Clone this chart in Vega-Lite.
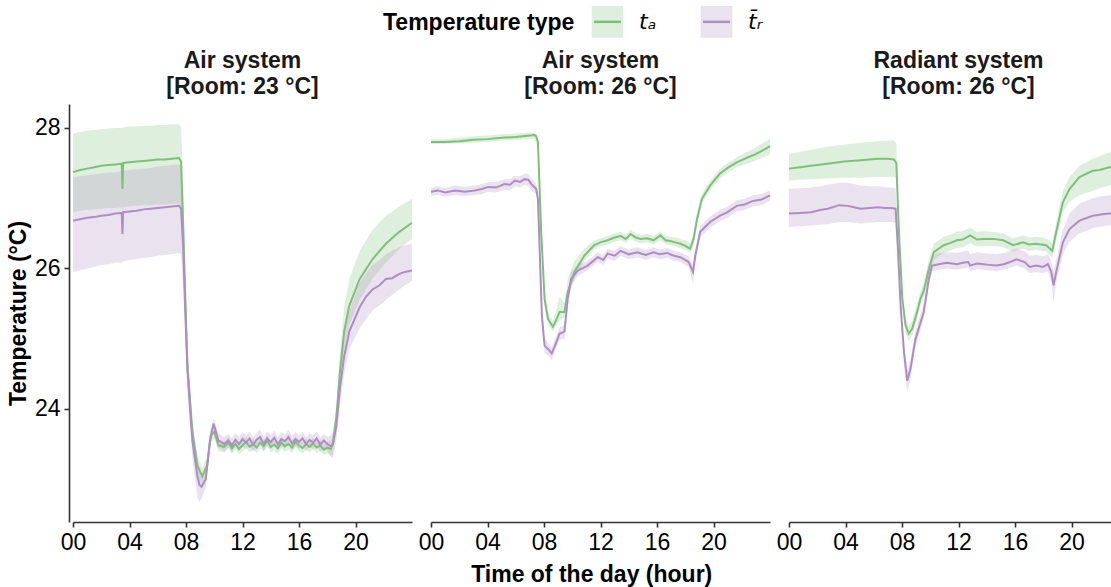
{
"$schema": "https://vega.github.io/schema/vega-lite/v6.json",
"padding": {"left": 7, "top": 4, "right": 0, "bottom": 4},
"background": "white",
"data": {"values": [
{"panel":"A23","type":"ta","hour":0,"mean":27.37,"lo":26.8,"hi":27.92},
{"panel":"A23","type":"ta","hour":0.5,"mean":27.4,"lo":26.82,"hi":27.94},
{"panel":"A23","type":"ta","hour":1,"mean":27.42,"lo":26.83,"hi":27.96},
{"panel":"A23","type":"ta","hour":1.5,"mean":27.44,"lo":26.84,"hi":27.97},
{"panel":"A23","type":"ta","hour":2,"mean":27.46,"lo":26.85,"hi":27.98},
{"panel":"A23","type":"ta","hour":2.5,"mean":27.47,"lo":26.86,"hi":27.99},
{"panel":"A23","type":"ta","hour":3,"mean":27.48,"lo":26.86,"hi":28.0},
{"panel":"A23","type":"ta","hour":3.45,"mean":27.49,"lo":26.87,"hi":28.0},
{"panel":"A23","type":"ta","hour":3.5,"mean":27.13,"lo":26.8,"hi":27.99},
{"panel":"A23","type":"ta","hour":3.55,"mean":27.5,"lo":26.87,"hi":28.01},
{"panel":"A23","type":"ta","hour":4,"mean":27.51,"lo":26.88,"hi":28.02},
{"panel":"A23","type":"ta","hour":4.5,"mean":27.52,"lo":26.89,"hi":28.02},
{"panel":"A23","type":"ta","hour":5,"mean":27.53,"lo":26.9,"hi":28.03},
{"panel":"A23","type":"ta","hour":5.5,"mean":27.54,"lo":26.9,"hi":28.03},
{"panel":"A23","type":"ta","hour":6,"mean":27.55,"lo":26.91,"hi":28.04},
{"panel":"A23","type":"ta","hour":6.5,"mean":27.55,"lo":26.91,"hi":28.04},
{"panel":"A23","type":"ta","hour":7,"mean":27.56,"lo":26.92,"hi":28.05},
{"panel":"A23","type":"ta","hour":7.5,"mean":27.57,"lo":26.92,"hi":28.05},
{"panel":"A23","type":"ta","hour":7.65,"mean":27.52,"lo":26.88,"hi":28.02},
{"panel":"A23","type":"ta","hour":7.8,"mean":26.6,"lo":26.1,"hi":27.2},
{"panel":"A23","type":"ta","hour":7.95,"mean":25.57,"lo":25.2,"hi":26.0},
{"panel":"A23","type":"ta","hour":8.1,"mean":24.62,"lo":24.35,"hi":24.95},
{"panel":"A23","type":"ta","hour":8.45,"mean":23.67,"lo":23.5,"hi":23.85},
{"panel":"A23","type":"ta","hour":8.8,"mean":23.2,"lo":23.05,"hi":23.35},
{"panel":"A23","type":"ta","hour":9.15,"mean":23.04,"lo":22.92,"hi":23.16},
{"panel":"A23","type":"ta","hour":9.5,"mean":23.2,"lo":23.08,"hi":23.32},
{"panel":"A23","type":"ta","hour":9.75,"mean":23.62,"lo":23.52,"hi":23.72},
{"panel":"A23","type":"ta","hour":10,"mean":23.67,"lo":23.58,"hi":23.76},
{"panel":"A23","type":"ta","hour":10.3,"mean":23.48,"lo":23.4,"hi":23.56},
{"panel":"A23","type":"ta","hour":10.7,"mean":23.46,"lo":23.38,"hi":23.54},
{"panel":"A23","type":"ta","hour":11,"mean":23.52,"lo":23.44,"hi":23.6},
{"panel":"A23","type":"ta","hour":11.25,"mean":23.44,"lo":23.36,"hi":23.52},
{"panel":"A23","type":"ta","hour":11.5,"mean":23.5,"lo":23.42,"hi":23.58},
{"panel":"A23","type":"ta","hour":11.75,"mean":23.43,"lo":23.35,"hi":23.51},
{"panel":"A23","type":"ta","hour":12,"mean":23.48,"lo":23.4,"hi":23.56},
{"panel":"A23","type":"ta","hour":12.25,"mean":23.53,"lo":23.45,"hi":23.61},
{"panel":"A23","type":"ta","hour":12.5,"mean":23.46,"lo":23.38,"hi":23.54},
{"panel":"A23","type":"ta","hour":12.75,"mean":23.5,"lo":23.42,"hi":23.58},
{"panel":"A23","type":"ta","hour":13,"mean":23.45,"lo":23.37,"hi":23.53},
{"panel":"A23","type":"ta","hour":13.25,"mean":23.52,"lo":23.44,"hi":23.6},
{"panel":"A23","type":"ta","hour":13.5,"mean":23.47,"lo":23.39,"hi":23.55},
{"panel":"A23","type":"ta","hour":13.75,"mean":23.55,"lo":23.47,"hi":23.63},
{"panel":"A23","type":"ta","hour":14,"mean":23.46,"lo":23.38,"hi":23.54},
{"panel":"A23","type":"ta","hour":14.25,"mean":23.49,"lo":23.41,"hi":23.57},
{"panel":"A23","type":"ta","hour":14.5,"mean":23.44,"lo":23.36,"hi":23.52},
{"panel":"A23","type":"ta","hour":14.75,"mean":23.52,"lo":23.44,"hi":23.6},
{"panel":"A23","type":"ta","hour":15,"mean":23.47,"lo":23.39,"hi":23.55},
{"panel":"A23","type":"ta","hour":15.25,"mean":23.5,"lo":23.42,"hi":23.58},
{"panel":"A23","type":"ta","hour":15.5,"mean":23.45,"lo":23.37,"hi":23.53},
{"panel":"A23","type":"ta","hour":15.75,"mean":23.53,"lo":23.45,"hi":23.61},
{"panel":"A23","type":"ta","hour":16,"mean":23.48,"lo":23.4,"hi":23.56},
{"panel":"A23","type":"ta","hour":16.25,"mean":23.44,"lo":23.36,"hi":23.52},
{"panel":"A23","type":"ta","hour":16.5,"mean":23.5,"lo":23.42,"hi":23.58},
{"panel":"A23","type":"ta","hour":16.75,"mean":23.46,"lo":23.38,"hi":23.54},
{"panel":"A23","type":"ta","hour":17,"mean":23.51,"lo":23.43,"hi":23.59},
{"panel":"A23","type":"ta","hour":17.25,"mean":23.45,"lo":23.37,"hi":23.53},
{"panel":"A23","type":"ta","hour":17.5,"mean":23.48,"lo":23.4,"hi":23.56},
{"panel":"A23","type":"ta","hour":17.75,"mean":23.42,"lo":23.34,"hi":23.5},
{"panel":"A23","type":"ta","hour":18,"mean":23.45,"lo":23.37,"hi":23.53},
{"panel":"A23","type":"ta","hour":18.25,"mean":23.43,"lo":23.33,"hi":23.55},
{"panel":"A23","type":"ta","hour":18.4,"mean":23.5,"lo":23.35,"hi":23.65},
{"panel":"A23","type":"ta","hour":18.64,"mean":23.86,"lo":23.7,"hi":24.05},
{"panel":"A23","type":"ta","hour":18.9,"mean":24.53,"lo":24.3,"hi":24.8},
{"panel":"A23","type":"ta","hour":19.2,"mean":25.1,"lo":24.85,"hi":25.45},
{"panel":"A23","type":"ta","hour":19.56,"mean":25.47,"lo":25.2,"hi":25.85},
{"panel":"A23","type":"ta","hour":20.3,"mean":25.85,"lo":25.55,"hi":26.25},
{"panel":"A23","type":"ta","hour":21.2,"mean":26.13,"lo":25.85,"hi":26.55},
{"panel":"A23","type":"ta","hour":22.15,"mean":26.35,"lo":26.08,"hi":26.75},
{"panel":"A23","type":"ta","hour":23.1,"mean":26.52,"lo":26.28,"hi":26.88},
{"panel":"A23","type":"ta","hour":24,"mean":26.65,"lo":26.42,"hi":26.99},
{"panel":"A23","type":"tr","hour":0,"mean":26.68,"lo":25.95,"hi":27.3},
{"panel":"A23","type":"tr","hour":0.5,"mean":26.7,"lo":25.97,"hi":27.31},
{"panel":"A23","type":"tr","hour":1,"mean":26.72,"lo":26.0,"hi":27.33},
{"panel":"A23","type":"tr","hour":1.5,"mean":26.73,"lo":26.02,"hi":27.34},
{"panel":"A23","type":"tr","hour":2,"mean":26.75,"lo":26.05,"hi":27.35},
{"panel":"A23","type":"tr","hour":2.5,"mean":26.76,"lo":26.06,"hi":27.36},
{"panel":"A23","type":"tr","hour":3,"mean":26.78,"lo":26.08,"hi":27.37},
{"panel":"A23","type":"tr","hour":3.45,"mean":26.79,"lo":26.08,"hi":27.38},
{"panel":"A23","type":"tr","hour":3.5,"mean":26.49,"lo":26.08,"hi":27.38},
{"panel":"A23","type":"tr","hour":3.55,"mean":26.8,"lo":26.1,"hi":27.39},
{"panel":"A23","type":"tr","hour":4,"mean":26.81,"lo":26.12,"hi":27.4},
{"panel":"A23","type":"tr","hour":4.5,"mean":26.82,"lo":26.13,"hi":27.41},
{"panel":"A23","type":"tr","hour":5,"mean":26.84,"lo":26.15,"hi":27.42},
{"panel":"A23","type":"tr","hour":5.5,"mean":26.85,"lo":26.16,"hi":27.43},
{"panel":"A23","type":"tr","hour":6,"mean":26.86,"lo":26.18,"hi":27.45},
{"panel":"A23","type":"tr","hour":6.5,"mean":26.87,"lo":26.19,"hi":27.46},
{"panel":"A23","type":"tr","hour":7,"mean":26.88,"lo":26.2,"hi":27.47},
{"panel":"A23","type":"tr","hour":7.5,"mean":26.89,"lo":26.22,"hi":27.48},
{"panel":"A23","type":"tr","hour":7.65,"mean":26.85,"lo":26.2,"hi":27.45},
{"panel":"A23","type":"tr","hour":7.8,"mean":26.3,"lo":25.7,"hi":26.9},
{"panel":"A23","type":"tr","hour":7.95,"mean":25.4,"lo":25.0,"hi":25.8},
{"panel":"A23","type":"tr","hour":8.1,"mean":24.55,"lo":24.25,"hi":24.85},
{"panel":"A23","type":"tr","hour":8.45,"mean":23.55,"lo":23.3,"hi":23.8},
{"panel":"A23","type":"tr","hour":8.8,"mean":23.05,"lo":22.75,"hi":23.3},
{"panel":"A23","type":"tr","hour":8.95,"mean":22.92,"lo":22.68,"hi":23.15},
{"panel":"A23","type":"tr","hour":9.1,"mean":22.89,"lo":22.72,"hi":23.05},
{"panel":"A23","type":"tr","hour":9.4,"mean":23.0,"lo":22.88,"hi":23.14},
{"panel":"A23","type":"tr","hour":9.7,"mean":23.55,"lo":23.45,"hi":23.66},
{"panel":"A23","type":"tr","hour":9.95,"mean":23.79,"lo":23.7,"hi":23.88},
{"panel":"A23","type":"tr","hour":10.3,"mean":23.55,"lo":23.45,"hi":23.65},
{"panel":"A23","type":"tr","hour":10.7,"mean":23.5,"lo":23.4,"hi":23.6},
{"panel":"A23","type":"tr","hour":11,"mean":23.55,"lo":23.45,"hi":23.65},
{"panel":"A23","type":"tr","hour":11.25,"mean":23.48,"lo":23.38,"hi":23.58},
{"panel":"A23","type":"tr","hour":11.5,"mean":23.56,"lo":23.46,"hi":23.66},
{"panel":"A23","type":"tr","hour":11.75,"mean":23.5,"lo":23.4,"hi":23.6},
{"panel":"A23","type":"tr","hour":12,"mean":23.57,"lo":23.47,"hi":23.67},
{"panel":"A23","type":"tr","hour":12.25,"mean":23.52,"lo":23.42,"hi":23.62},
{"panel":"A23","type":"tr","hour":12.5,"mean":23.58,"lo":23.48,"hi":23.68},
{"panel":"A23","type":"tr","hour":12.75,"mean":23.49,"lo":23.39,"hi":23.59},
{"panel":"A23","type":"tr","hour":13,"mean":23.56,"lo":23.46,"hi":23.66},
{"panel":"A23","type":"tr","hour":13.25,"mean":23.6,"lo":23.5,"hi":23.7},
{"panel":"A23","type":"tr","hour":13.5,"mean":23.5,"lo":23.4,"hi":23.6},
{"panel":"A23","type":"tr","hour":13.75,"mean":23.58,"lo":23.48,"hi":23.68},
{"panel":"A23","type":"tr","hour":14,"mean":23.53,"lo":23.43,"hi":23.63},
{"panel":"A23","type":"tr","hour":14.25,"mean":23.59,"lo":23.49,"hi":23.69},
{"panel":"A23","type":"tr","hour":14.5,"mean":23.5,"lo":23.4,"hi":23.6},
{"panel":"A23","type":"tr","hour":14.75,"mean":23.57,"lo":23.47,"hi":23.67},
{"panel":"A23","type":"tr","hour":15,"mean":23.54,"lo":23.44,"hi":23.64},
{"panel":"A23","type":"tr","hour":15.25,"mean":23.6,"lo":23.5,"hi":23.7},
{"panel":"A23","type":"tr","hour":15.5,"mean":23.51,"lo":23.41,"hi":23.61},
{"panel":"A23","type":"tr","hour":15.75,"mean":23.57,"lo":23.47,"hi":23.67},
{"panel":"A23","type":"tr","hour":16,"mean":23.53,"lo":23.43,"hi":23.63},
{"panel":"A23","type":"tr","hour":16.25,"mean":23.58,"lo":23.48,"hi":23.68},
{"panel":"A23","type":"tr","hour":16.5,"mean":23.5,"lo":23.4,"hi":23.6},
{"panel":"A23","type":"tr","hour":16.75,"mean":23.56,"lo":23.46,"hi":23.66},
{"panel":"A23","type":"tr","hour":17,"mean":23.52,"lo":23.42,"hi":23.62},
{"panel":"A23","type":"tr","hour":17.25,"mean":23.58,"lo":23.48,"hi":23.68},
{"panel":"A23","type":"tr","hour":17.5,"mean":23.49,"lo":23.39,"hi":23.59},
{"panel":"A23","type":"tr","hour":17.75,"mean":23.55,"lo":23.45,"hi":23.65},
{"panel":"A23","type":"tr","hour":18,"mean":23.5,"lo":23.4,"hi":23.6},
{"panel":"A23","type":"tr","hour":18.25,"mean":23.47,"lo":23.32,"hi":23.62},
{"panel":"A23","type":"tr","hour":18.4,"mean":23.5,"lo":23.3,"hi":23.7},
{"panel":"A23","type":"tr","hour":18.64,"mean":23.75,"lo":23.55,"hi":23.95},
{"panel":"A23","type":"tr","hour":18.9,"mean":24.3,"lo":24.05,"hi":24.55},
{"panel":"A23","type":"tr","hour":19.2,"mean":24.75,"lo":24.5,"hi":25.0},
{"panel":"A23","type":"tr","hour":19.56,"mean":25.1,"lo":24.85,"hi":25.4},
{"panel":"A23","type":"tr","hour":20.3,"mean":25.45,"lo":25.15,"hi":25.8},
{"panel":"A23","type":"tr","hour":20.75,"mean":25.6,"lo":25.28,"hi":25.93},
{"panel":"A23","type":"tr","hour":21.2,"mean":25.7,"lo":25.4,"hi":26.05},
{"panel":"A23","type":"tr","hour":21.7,"mean":25.76,"lo":25.47,"hi":26.12},
{"panel":"A23","type":"tr","hour":22.15,"mean":25.85,"lo":25.55,"hi":26.2},
{"panel":"A23","type":"tr","hour":22.6,"mean":25.86,"lo":25.62,"hi":26.25},
{"panel":"A23","type":"tr","hour":23.1,"mean":25.92,"lo":25.7,"hi":26.3},
{"panel":"A23","type":"tr","hour":23.5,"mean":25.95,"lo":25.76,"hi":26.33},
{"panel":"A23","type":"tr","hour":24,"mean":25.97,"lo":25.82,"hi":26.35},
{"panel":"A26","type":"ta","hour":0,"mean":27.8,"lo":27.77,"hi":27.84},
{"panel":"A26","type":"ta","hour":1,"mean":27.8,"lo":27.77,"hi":27.84},
{"panel":"A26","type":"ta","hour":2,"mean":27.81,"lo":27.78,"hi":27.86},
{"panel":"A26","type":"ta","hour":3,"mean":27.83,"lo":27.79,"hi":27.88},
{"panel":"A26","type":"ta","hour":4,"mean":27.84,"lo":27.8,"hi":27.89},
{"panel":"A26","type":"ta","hour":5,"mean":27.86,"lo":27.82,"hi":27.91},
{"panel":"A26","type":"ta","hour":6,"mean":27.87,"lo":27.83,"hi":27.92},
{"panel":"A26","type":"ta","hour":7,"mean":27.89,"lo":27.84,"hi":27.93},
{"panel":"A26","type":"ta","hour":7.3,"mean":27.9,"lo":27.85,"hi":27.93},
{"panel":"A26","type":"ta","hour":7.45,"mean":27.88,"lo":27.8,"hi":27.92},
{"panel":"A26","type":"ta","hour":7.57,"mean":27.8,"lo":27.7,"hi":27.85},
{"panel":"A26","type":"ta","hour":7.8,"mean":26.52,"lo":26.4,"hi":26.65},
{"panel":"A26","type":"ta","hour":8.04,"mean":25.57,"lo":25.45,"hi":25.7},
{"panel":"A26","type":"ta","hour":8.28,"mean":25.28,"lo":25.2,"hi":25.38},
{"panel":"A26","type":"ta","hour":8.63,"mean":25.17,"lo":25.1,"hi":25.25},
{"panel":"A26","type":"ta","hour":8.86,"mean":25.26,"lo":25.18,"hi":25.4},
{"panel":"A26","type":"ta","hour":9.1,"mean":25.38,"lo":25.25,"hi":25.6},
{"panel":"A26","type":"ta","hour":9.45,"mean":25.38,"lo":25.3,"hi":25.5},
{"panel":"A26","type":"ta","hour":9.68,"mean":25.66,"lo":25.55,"hi":25.85},
{"panel":"A26","type":"ta","hour":10.15,"mean":25.95,"lo":25.85,"hi":26.1},
{"panel":"A26","type":"ta","hour":10.85,"mean":26.18,"lo":26.1,"hi":26.28},
{"panel":"A26","type":"ta","hour":11.55,"mean":26.33,"lo":26.27,"hi":26.4},
{"panel":"A26","type":"ta","hour":12,"mean":26.37,"lo":26.31,"hi":26.43},
{"panel":"A26","type":"ta","hour":12.5,"mean":26.4,"lo":26.34,"hi":26.46},
{"panel":"A26","type":"ta","hour":13,"mean":26.44,"lo":26.38,"hi":26.5},
{"panel":"A26","type":"ta","hour":13.43,"mean":26.46,"lo":26.4,"hi":26.52},
{"panel":"A26","type":"ta","hour":13.8,"mean":26.42,"lo":26.36,"hi":26.48},
{"panel":"A26","type":"ta","hour":14.13,"mean":26.49,"lo":26.43,"hi":26.55},
{"panel":"A26","type":"ta","hour":14.5,"mean":26.44,"lo":26.38,"hi":26.5},
{"panel":"A26","type":"ta","hour":14.84,"mean":26.42,"lo":26.36,"hi":26.48},
{"panel":"A26","type":"ta","hour":15.3,"mean":26.43,"lo":26.37,"hi":26.49},
{"panel":"A26","type":"ta","hour":15.75,"mean":26.4,"lo":26.34,"hi":26.46},
{"panel":"A26","type":"ta","hour":16.24,"mean":26.47,"lo":26.4,"hi":26.53},
{"panel":"A26","type":"ta","hour":16.6,"mean":26.4,"lo":26.34,"hi":26.46},
{"panel":"A26","type":"ta","hour":16.95,"mean":26.39,"lo":26.33,"hi":26.45},
{"panel":"A26","type":"ta","hour":17.3,"mean":26.37,"lo":26.31,"hi":26.44},
{"panel":"A26","type":"ta","hour":17.65,"mean":26.35,"lo":26.29,"hi":26.42},
{"panel":"A26","type":"ta","hour":18,"mean":26.32,"lo":26.26,"hi":26.4},
{"panel":"A26","type":"ta","hour":18.35,"mean":26.28,"lo":26.22,"hi":26.36},
{"panel":"A26","type":"ta","hour":18.59,"mean":26.42,"lo":26.33,"hi":26.5},
{"panel":"A26","type":"ta","hour":18.83,"mean":26.7,"lo":26.62,"hi":26.78},
{"panel":"A26","type":"ta","hour":19.18,"mean":26.99,"lo":26.92,"hi":27.06},
{"panel":"A26","type":"ta","hour":19.76,"mean":27.18,"lo":27.11,"hi":27.25},
{"panel":"A26","type":"ta","hour":20.46,"mean":27.35,"lo":27.28,"hi":27.42},
{"panel":"A26","type":"ta","hour":21,"mean":27.43,"lo":27.36,"hi":27.5},
{"panel":"A26","type":"ta","hour":21.64,"mean":27.51,"lo":27.44,"hi":27.58},
{"panel":"A26","type":"ta","hour":22.2,"mean":27.56,"lo":27.48,"hi":27.64},
{"panel":"A26","type":"ta","hour":22.8,"mean":27.61,"lo":27.52,"hi":27.7},
{"panel":"A26","type":"ta","hour":23.4,"mean":27.67,"lo":27.57,"hi":27.77},
{"panel":"A26","type":"ta","hour":24,"mean":27.74,"lo":27.62,"hi":27.85},
{"panel":"A26","type":"tr","hour":0,"mean":27.09,"lo":27.03,"hi":27.15},
{"panel":"A26","type":"tr","hour":0.5,"mean":27.11,"lo":27.05,"hi":27.17},
{"panel":"A26","type":"tr","hour":1,"mean":27.08,"lo":27.02,"hi":27.14},
{"panel":"A26","type":"tr","hour":1.7,"mean":27.11,"lo":27.04,"hi":27.18},
{"panel":"A26","type":"tr","hour":2.4,"mean":27.09,"lo":27.03,"hi":27.16},
{"panel":"A26","type":"tr","hour":3.1,"mean":27.11,"lo":27.04,"hi":27.18},
{"panel":"A26","type":"tr","hour":3.6,"mean":27.13,"lo":27.06,"hi":27.2},
{"panel":"A26","type":"tr","hour":4.06,"mean":27.16,"lo":27.09,"hi":27.23},
{"panel":"A26","type":"tr","hour":4.6,"mean":27.15,"lo":27.08,"hi":27.23},
{"panel":"A26","type":"tr","hour":5.2,"mean":27.2,"lo":27.12,"hi":27.27},
{"panel":"A26","type":"tr","hour":5.6,"mean":27.19,"lo":27.11,"hi":27.27},
{"panel":"A26","type":"tr","hour":5.93,"mean":27.25,"lo":27.17,"hi":27.32},
{"panel":"A26","type":"tr","hour":6.3,"mean":27.23,"lo":27.15,"hi":27.31},
{"panel":"A26","type":"tr","hour":6.63,"mean":27.27,"lo":27.19,"hi":27.35},
{"panel":"A26","type":"tr","hour":6.9,"mean":27.26,"lo":27.17,"hi":27.34},
{"panel":"A26","type":"tr","hour":7.1,"mean":27.2,"lo":27.11,"hi":27.28},
{"panel":"A26","type":"tr","hour":7.45,"mean":27.13,"lo":27.05,"hi":27.21},
{"panel":"A26","type":"tr","hour":7.57,"mean":26.99,"lo":26.9,"hi":27.08},
{"panel":"A26","type":"tr","hour":7.69,"mean":26.28,"lo":26.15,"hi":26.4},
{"panel":"A26","type":"tr","hour":7.85,"mean":25.33,"lo":25.2,"hi":25.45},
{"panel":"A26","type":"tr","hour":8.04,"mean":24.9,"lo":24.8,"hi":25.0},
{"panel":"A26","type":"tr","hour":8.39,"mean":24.83,"lo":24.74,"hi":24.92},
{"panel":"A26","type":"tr","hour":8.55,"mean":24.79,"lo":24.7,"hi":24.88},
{"panel":"A26","type":"tr","hour":8.74,"mean":24.88,"lo":24.8,"hi":24.97},
{"panel":"A26","type":"tr","hour":9.1,"mean":25.07,"lo":24.98,"hi":25.16},
{"panel":"A26","type":"tr","hour":9.45,"mean":25.1,"lo":25.0,"hi":25.2},
{"panel":"A26","type":"tr","hour":9.68,"mean":25.57,"lo":25.45,"hi":25.68},
{"panel":"A26","type":"tr","hour":9.92,"mean":25.85,"lo":25.75,"hi":25.95},
{"panel":"A26","type":"tr","hour":10.39,"mean":25.97,"lo":25.89,"hi":26.05},
{"panel":"A26","type":"tr","hour":11.09,"mean":26.04,"lo":25.97,"hi":26.11},
{"panel":"A26","type":"tr","hour":11.8,"mean":26.16,"lo":26.09,"hi":26.23},
{"panel":"A26","type":"tr","hour":12.2,"mean":26.12,"lo":26.05,"hi":26.19},
{"panel":"A26","type":"tr","hour":12.5,"mean":26.21,"lo":26.14,"hi":26.28},
{"panel":"A26","type":"tr","hour":13,"mean":26.18,"lo":26.11,"hi":26.25},
{"panel":"A26","type":"tr","hour":13.43,"mean":26.25,"lo":26.18,"hi":26.32},
{"panel":"A26","type":"tr","hour":14,"mean":26.2,"lo":26.13,"hi":26.27},
{"panel":"A26","type":"tr","hour":14.6,"mean":26.23,"lo":26.16,"hi":26.3},
{"panel":"A26","type":"tr","hour":15.2,"mean":26.19,"lo":26.12,"hi":26.26},
{"panel":"A26","type":"tr","hour":15.75,"mean":26.23,"lo":26.16,"hi":26.3},
{"panel":"A26","type":"tr","hour":16.2,"mean":26.2,"lo":26.13,"hi":26.27},
{"panel":"A26","type":"tr","hour":16.71,"mean":26.22,"lo":26.15,"hi":26.29},
{"panel":"A26","type":"tr","hour":17.2,"mean":26.18,"lo":26.11,"hi":26.25},
{"panel":"A26","type":"tr","hour":17.65,"mean":26.16,"lo":26.09,"hi":26.23},
{"panel":"A26","type":"tr","hour":18.24,"mean":26.09,"lo":26.02,"hi":26.17},
{"panel":"A26","type":"tr","hour":18.55,"mean":25.95,"lo":25.78,"hi":26.05},
{"panel":"A26","type":"tr","hour":18.71,"mean":26.18,"lo":26.08,"hi":26.28},
{"panel":"A26","type":"tr","hour":19.06,"mean":26.52,"lo":26.44,"hi":26.6},
{"panel":"A26","type":"tr","hour":19.76,"mean":26.66,"lo":26.58,"hi":26.74},
{"panel":"A26","type":"tr","hour":20.46,"mean":26.75,"lo":26.67,"hi":26.83},
{"panel":"A26","type":"tr","hour":21,"mean":26.8,"lo":26.72,"hi":26.88},
{"panel":"A26","type":"tr","hour":21.64,"mean":26.89,"lo":26.81,"hi":26.97},
{"panel":"A26","type":"tr","hour":22.2,"mean":26.91,"lo":26.83,"hi":26.99},
{"panel":"A26","type":"tr","hour":22.8,"mean":26.96,"lo":26.88,"hi":27.04},
{"panel":"A26","type":"tr","hour":23.4,"mean":26.98,"lo":26.9,"hi":27.06},
{"panel":"A26","type":"tr","hour":24,"mean":27.04,"lo":26.96,"hi":27.11},
{"panel":"R26","type":"ta","hour":0,"mean":27.42,"lo":27.25,"hi":27.63},
{"panel":"R26","type":"ta","hour":0.8,"mean":27.44,"lo":27.26,"hi":27.66},
{"panel":"R26","type":"ta","hour":1.57,"mean":27.46,"lo":27.27,"hi":27.69},
{"panel":"R26","type":"ta","hour":2.7,"mean":27.49,"lo":27.28,"hi":27.73},
{"panel":"R26","type":"ta","hour":3.9,"mean":27.52,"lo":27.29,"hi":27.76},
{"panel":"R26","type":"ta","hour":5.1,"mean":27.54,"lo":27.29,"hi":27.79},
{"panel":"R26","type":"ta","hour":6.26,"mean":27.56,"lo":27.3,"hi":27.81},
{"panel":"R26","type":"ta","hour":7,"mean":27.56,"lo":27.3,"hi":27.82},
{"panel":"R26","type":"ta","hour":7.43,"mean":27.55,"lo":27.3,"hi":27.82},
{"panel":"R26","type":"ta","hour":7.6,"mean":27.5,"lo":27.28,"hi":27.78},
{"panel":"R26","type":"ta","hour":7.78,"mean":26.52,"lo":26.4,"hi":26.7},
{"panel":"R26","type":"ta","hour":8.02,"mean":25.57,"lo":25.45,"hi":25.7},
{"panel":"R26","type":"ta","hour":8.25,"mean":25.19,"lo":25.08,"hi":25.3},
{"panel":"R26","type":"ta","hour":8.48,"mean":25.07,"lo":24.97,"hi":25.18},
{"panel":"R26","type":"ta","hour":8.72,"mean":25.14,"lo":25.04,"hi":25.25},
{"panel":"R26","type":"ta","hour":9.07,"mean":25.38,"lo":25.28,"hi":25.5},
{"panel":"R26","type":"ta","hour":9.31,"mean":25.57,"lo":25.47,"hi":25.68},
{"panel":"R26","type":"ta","hour":9.54,"mean":25.68,"lo":25.58,"hi":25.8},
{"panel":"R26","type":"ta","hour":9.9,"mean":25.99,"lo":25.88,"hi":26.12},
{"panel":"R26","type":"ta","hour":10.25,"mean":26.23,"lo":26.12,"hi":26.35},
{"panel":"R26","type":"ta","hour":10.95,"mean":26.33,"lo":26.22,"hi":26.45},
{"panel":"R26","type":"ta","hour":11.4,"mean":26.36,"lo":26.25,"hi":26.48},
{"panel":"R26","type":"ta","hour":11.88,"mean":26.4,"lo":26.29,"hi":26.52},
{"panel":"R26","type":"ta","hour":12.3,"mean":26.41,"lo":26.3,"hi":26.53},
{"panel":"R26","type":"ta","hour":12.82,"mean":26.47,"lo":26.36,"hi":26.58},
{"panel":"R26","type":"ta","hour":13.3,"mean":26.41,"lo":26.31,"hi":26.52},
{"panel":"R26","type":"ta","hour":13.76,"mean":26.42,"lo":26.32,"hi":26.53},
{"panel":"R26","type":"ta","hour":14.46,"mean":26.42,"lo":26.32,"hi":26.52},
{"panel":"R26","type":"ta","hour":15.17,"mean":26.4,"lo":26.3,"hi":26.5},
{"panel":"R26","type":"ta","hour":15.87,"mean":26.33,"lo":26.24,"hi":26.43},
{"panel":"R26","type":"ta","hour":16.57,"mean":26.37,"lo":26.28,"hi":26.47},
{"panel":"R26","type":"ta","hour":17,"mean":26.34,"lo":26.25,"hi":26.44},
{"panel":"R26","type":"ta","hour":17.5,"mean":26.35,"lo":26.26,"hi":26.45},
{"panel":"R26","type":"ta","hour":18.2,"mean":26.33,"lo":26.24,"hi":26.43},
{"panel":"R26","type":"ta","hour":18.64,"mean":26.25,"lo":26.15,"hi":26.36},
{"panel":"R26","type":"ta","hour":18.92,"mean":26.52,"lo":26.4,"hi":26.66},
{"panel":"R26","type":"ta","hour":19.39,"mean":26.94,"lo":26.8,"hi":27.1},
{"panel":"R26","type":"ta","hour":19.86,"mean":27.13,"lo":26.95,"hi":27.3},
{"panel":"R26","type":"ta","hour":20.56,"mean":27.3,"lo":27.04,"hi":27.46},
{"panel":"R26","type":"ta","hour":21.5,"mean":27.39,"lo":27.1,"hi":27.56},
{"panel":"R26","type":"ta","hour":22,"mean":27.4,"lo":27.14,"hi":27.6},
{"panel":"R26","type":"ta","hour":22.67,"mean":27.44,"lo":27.18,"hi":27.65},
{"panel":"R26","type":"ta","hour":23.56,"mean":27.45,"lo":27.22,"hi":27.7},
{"panel":"R26","type":"ta","hour":24,"mean":27.46,"lo":27.23,"hi":27.72},
{"panel":"R26","type":"tr","hour":0,"mean":26.78,"lo":26.59,"hi":27.13},
{"panel":"R26","type":"tr","hour":0.8,"mean":26.79,"lo":26.6,"hi":27.14},
{"panel":"R26","type":"tr","hour":1.57,"mean":26.8,"lo":26.61,"hi":27.15},
{"panel":"R26","type":"tr","hour":2.2,"mean":26.83,"lo":26.62,"hi":27.17},
{"panel":"R26","type":"tr","hour":2.74,"mean":26.85,"lo":26.63,"hi":27.19},
{"panel":"R26","type":"tr","hour":3.56,"mean":26.9,"lo":26.66,"hi":27.22},
{"panel":"R26","type":"tr","hour":4.15,"mean":26.89,"lo":26.66,"hi":27.22},
{"panel":"R26","type":"tr","hour":4.6,"mean":26.87,"lo":26.65,"hi":27.2},
{"panel":"R26","type":"tr","hour":5.08,"mean":26.85,"lo":26.64,"hi":27.18},
{"panel":"R26","type":"tr","hour":5.7,"mean":26.86,"lo":26.65,"hi":27.17},
{"panel":"R26","type":"tr","hour":6.26,"mean":26.87,"lo":26.66,"hi":27.17},
{"panel":"R26","type":"tr","hour":6.8,"mean":26.86,"lo":26.66,"hi":27.16},
{"panel":"R26","type":"tr","hour":7.2,"mean":26.86,"lo":26.66,"hi":27.15},
{"panel":"R26","type":"tr","hour":7.55,"mean":26.85,"lo":26.65,"hi":27.14},
{"panel":"R26","type":"tr","hour":7.71,"mean":26.28,"lo":26.15,"hi":26.45},
{"panel":"R26","type":"tr","hour":7.9,"mean":25.47,"lo":25.35,"hi":25.6},
{"panel":"R26","type":"tr","hour":8.14,"mean":24.81,"lo":24.65,"hi":24.95},
{"panel":"R26","type":"tr","hour":8.37,"mean":24.4,"lo":24.24,"hi":24.55},
{"panel":"R26","type":"tr","hour":8.6,"mean":24.57,"lo":24.42,"hi":24.7},
{"panel":"R26","type":"tr","hour":8.95,"mean":24.99,"lo":24.88,"hi":25.1},
{"panel":"R26","type":"tr","hour":9.31,"mean":25.23,"lo":25.13,"hi":25.35},
{"panel":"R26","type":"tr","hour":9.54,"mean":25.38,"lo":25.28,"hi":25.5},
{"panel":"R26","type":"tr","hour":9.9,"mean":25.85,"lo":25.75,"hi":25.98},
{"panel":"R26","type":"tr","hour":10.13,"mean":26.04,"lo":25.96,"hi":26.18},
{"panel":"R26","type":"tr","hour":10.6,"mean":26.06,"lo":25.98,"hi":26.22},
{"panel":"R26","type":"tr","hour":11.2,"mean":26.08,"lo":26.0,"hi":26.23},
{"panel":"R26","type":"tr","hour":11.88,"mean":26.06,"lo":25.98,"hi":26.22},
{"panel":"R26","type":"tr","hour":12.3,"mean":26.08,"lo":26.0,"hi":26.24},
{"panel":"R26","type":"tr","hour":12.7,"mean":26.09,"lo":26.01,"hi":26.25},
{"panel":"R26","type":"tr","hour":12.82,"mean":26.04,"lo":25.96,"hi":26.2},
{"panel":"R26","type":"tr","hour":13.3,"mean":26.07,"lo":25.99,"hi":26.23},
{"panel":"R26","type":"tr","hour":13.76,"mean":26.06,"lo":25.98,"hi":26.22},
{"panel":"R26","type":"tr","hour":14.2,"mean":26.05,"lo":25.97,"hi":26.21},
{"panel":"R26","type":"tr","hour":14.7,"mean":26.04,"lo":25.96,"hi":26.2},
{"panel":"R26","type":"tr","hour":15.2,"mean":26.06,"lo":25.98,"hi":26.22},
{"panel":"R26","type":"tr","hour":15.64,"mean":26.09,"lo":26.01,"hi":26.25},
{"panel":"R26","type":"tr","hour":16.1,"mean":26.13,"lo":26.04,"hi":26.28},
{"panel":"R26","type":"tr","hour":16.69,"mean":26.09,"lo":26.0,"hi":26.24},
{"panel":"R26","type":"tr","hour":17.03,"mean":26.02,"lo":25.93,"hi":26.18},
{"panel":"R26","type":"tr","hour":17.5,"mean":26.04,"lo":25.95,"hi":26.19},
{"panel":"R26","type":"tr","hour":17.97,"mean":26.02,"lo":25.93,"hi":26.17},
{"panel":"R26","type":"tr","hour":18.33,"mean":26.06,"lo":25.96,"hi":26.2},
{"panel":"R26","type":"tr","hour":18.57,"mean":25.95,"lo":25.8,"hi":26.1},
{"panel":"R26","type":"tr","hour":18.73,"mean":25.76,"lo":25.52,"hi":25.95},
{"panel":"R26","type":"tr","hour":18.92,"mean":25.95,"lo":25.8,"hi":26.12},
{"panel":"R26","type":"tr","hour":19.39,"mean":26.37,"lo":26.2,"hi":26.55},
{"panel":"R26","type":"tr","hour":19.86,"mean":26.56,"lo":26.38,"hi":26.78},
{"panel":"R26","type":"tr","hour":20.56,"mean":26.68,"lo":26.5,"hi":26.92},
{"panel":"R26","type":"tr","hour":21.5,"mean":26.75,"lo":26.57,"hi":27.0},
{"panel":"R26","type":"tr","hour":22.2,"mean":26.77,"lo":26.6,"hi":27.03},
{"panel":"R26","type":"tr","hour":22.67,"mean":26.78,"lo":26.61,"hi":27.04},
{"panel":"R26","type":"tr","hour":23.56,"mean":26.8,"lo":26.63,"hi":27.06},
{"panel":"R26","type":"tr","hour":24,"mean":26.81,"lo":26.64,"hi":27.07}
]},
"title": {"text": "Time of the day (hour)", "orient": "bottom", "anchor": "middle", "fontSize": 23, "fontWeight": "bold", "font": "Liberation Sans", "color": "black", "offset": 10, "dx": 22},
"facet": {"column": {"field": "panel", "type": "nominal", "sort": ["A23", "A26", "R26"],
  "header": {"title": null, "labelFontSize": 23, "labelFontWeight": "bold", "labelFont": "Liberation Sans", "labelColor": "#1a1a1a", "labelLineHeight": 26, "labelPadding": 5,
   "labelExpr": "datum.value == 'A23' ? ['Air system', '[Room: 23 °C]'] : datum.value == 'A26' ? ['Air system', '[Room: 26 °C]'] : ['Radiant system', '[Room: 26 °C]']"}}},
"spacing": 11,
"spec": {
  "width": 339,
  "height": 418,
  "layer": [
    {"mark": {"type": "area", "fillOpacity": 0.25},
     "encoding": {
       "x": {"field": "hour", "type": "quantitative", "scale": {"domain": [0, 24], "nice": false}, "axis": {"title": null, "values": [0, 4, 8, 12, 16, 20], "labelFlush": false, "labelExpr": "datum.value < 10 ? '0' + datum.value : '' + datum.value"}},
       "y": {"field": "lo", "type": "quantitative", "scale": {"domain": [22.39, 28.34], "nice": false, "zero": false}, "axis": {"title": "Temperature (°C)", "values": [24, 26, 28]}},
       "y2": {"field": "hi"},
       "color": {"field": "type", "type": "nominal", "scale": {"domain": ["ta", "tr"], "range": ["#7fbf7b", "#af8dc3"]},
         "legend": {"title": "Temperature type", "orient": "none", "legendX": 310, "legendY": -100, "direction": "horizontal", "titleOrient": "left", "titleLimit": 500,
           "symbolType": "M-0.85,0H1V1H-1V-1H1V0Z", "symbolSize": 1000, "symbolOpacity": 1, "symbolStrokeWidth": 2.5, "symbolDash": [26.9, 3000],
           "labelExpr": "datum.value == 'ta' ? 't\u2090' : 't\u0304\u1d63'", "labelFont": "DejaVu Sans", "labelFontStyle": "italic", "labelFontSize": 22, "labelOffset": 14, "columnPadding": 38, "labelColor": "black",
           "titleFontSize": 23, "titleFontWeight": "bold", "titleFont": "Liberation Sans", "titleColor": "black", "titlePadding": 15,
           "encode": {"symbols": {"update": {"fill": {"scale": "color", "field": "value"}, "stroke": {"scale": "color", "field": "value"}, "fillOpacity": {"value": 0.25}, "strokeOpacity": {"value": 1}, "opacity": {"value": 1}}}}}}
     }},
    {"mark": {"type": "line", "strokeWidth": 2},
     "encoding": {
       "x": {"field": "hour", "type": "quantitative"},
       "y": {"field": "mean", "type": "quantitative", "axis": {"title": "Temperature (°C)", "values": [24, 26, 28]}},
       "color": {"field": "type", "type": "nominal"}
     }}
  ]
},
"config": {
  "view": {"stroke": null},
  "font": "Liberation Sans",
  "axis": {"grid": false, "domainColor": "#333333", "domainWidth": 1.6, "tickColor": "#333333", "tickWidth": 1.6, "tickSize": 5, "labelFontSize": 23, "labelColor": "black", "labelFont": "Liberation Sans", "titleFontSize": 23, "titleColor": "black", "titleFontWeight": "bold", "titleFont": "Liberation Sans", "labelPadding": 4, "titlePadding": 4}
}
}
